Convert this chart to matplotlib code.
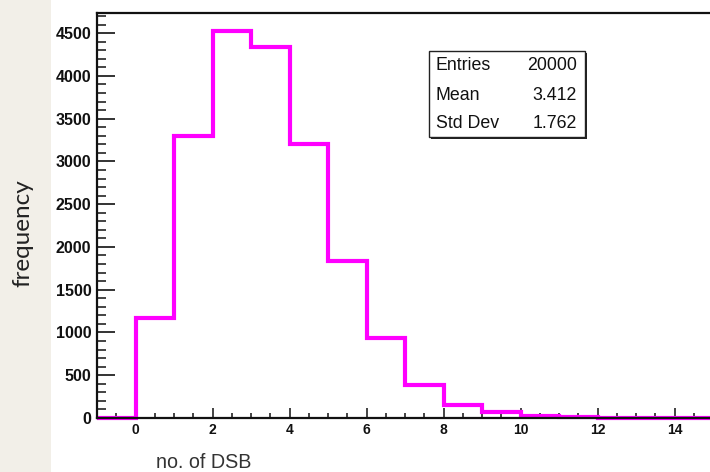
import numpy as np
import matplotlib.pyplot as plt
from matplotlib.patches import Rectangle
from matplotlib.ticker import MultipleLocator

# histogram: bin edges and counts
edges = [-1, 0, 1, 2, 3, 4, 5, 6, 7, 8, 9, 10, 11, 12, 13, 14, 15]
counts = [0, 1170, 3300, 4530, 4340, 3200, 1840, 940, 390, 150, 65, 25, 8, 3, 1, 0]

stat_names = ["Entries", "Mean", "Std Dev"]
stat_values = ["20000", "3.412", "1.762"]

x_label = "no. of DSB"
y_label = "frequency"

W, H = 710, 472
fig = plt.figure(figsize=(W / 100, H / 100), dpi=100)
fig.patch.set_facecolor("white")

# beige strip on the left
fig.add_artist(Rectangle((0, 0), 51 / W, 1, transform=fig.transFigure,
                         facecolor="#f2efe8", edgecolor="none", zorder=0))

ax = fig.add_axes([97 / W, 54 / H, 616 / W, 405 / H])
ax.set_xlim(-1, 15)
ax.set_ylim(0, 4735)

ax.stairs(counts, edges, color="#ff00ff", lw=3.0, clip_on=False, zorder=2)

for s in ax.spines.values():
    s.set_linewidth(1.6)
    s.set_color("#111111")

ax.xaxis.set_major_locator(MultipleLocator(2))
ax.xaxis.set_minor_locator(MultipleLocator(0.5))
ax.yaxis.set_major_locator(MultipleLocator(500))
ax.yaxis.set_minor_locator(MultipleLocator(100))

ax.tick_params(axis="x", which="major", direction="in", length=7.2, width=1.1,
               pad=3.5, labelsize=10, colors="#111111")
ax.tick_params(axis="x", which="minor", direction="in", length=3.6, width=1.1,
               colors="#111111")
ax.tick_params(axis="y", which="major", direction="in", length=13, width=1.2,
               pad=4.0, labelsize=11.5, colors="#111111")
ax.tick_params(axis="y", which="minor", direction="in", length=6.5, width=1.1,
               colors="#111111")
ax.set_xticks(np.arange(0, 15, 2))
ax.set_yticks(np.arange(0, 4501, 500))
for lab in ax.get_xticklabels() + ax.get_yticklabels():
    lab.set_fontfamily("Liberation Sans")
    lab.set_fontweight("bold")

fig.text(204 / W, 1 - 463 / H, x_label, ha="center", va="center",
         fontsize=14.2, family="Liberation Sans", color="#333333")
fig.text(23 / W, 1 - 233 / H, y_label, ha="center", va="center", rotation=90,
         fontsize=17.5, family="Lato", color="#222222")

# stats box with shadow
bx0, bx1, by0, by1 = 429, 585, 51, 137
fig.add_artist(Rectangle((bx0 / W + 2 / W, 1 - (by1 + 2) / H), (bx1 - bx0) / W, (by1 - by0) / H,
                         transform=fig.transFigure, facecolor="#222222",
                         edgecolor="none", zorder=5))
fig.add_artist(Rectangle((bx0 / W, 1 - by1 / H), (bx1 - bx0) / W, (by1 - by0) / H,
                         transform=fig.transFigure, facecolor="white",
                         edgecolor="#222222", lw=1.0, zorder=6))
rows_y = [66, 96, 123]
for name, val, ry in zip(stat_names, stat_values, rows_y):
    fig.text(436 / W, 1 - ry / H, name, ha="left", va="center", fontsize=12.8,
             family="Liberation Sans", color="#111111", zorder=7)
    fig.text(577 / W, 1 - ry / H, val, ha="right", va="center", fontsize=12.8,
             family="Liberation Sans", color="#111111", zorder=7)

fig.savefig("out.png", dpi=100)
